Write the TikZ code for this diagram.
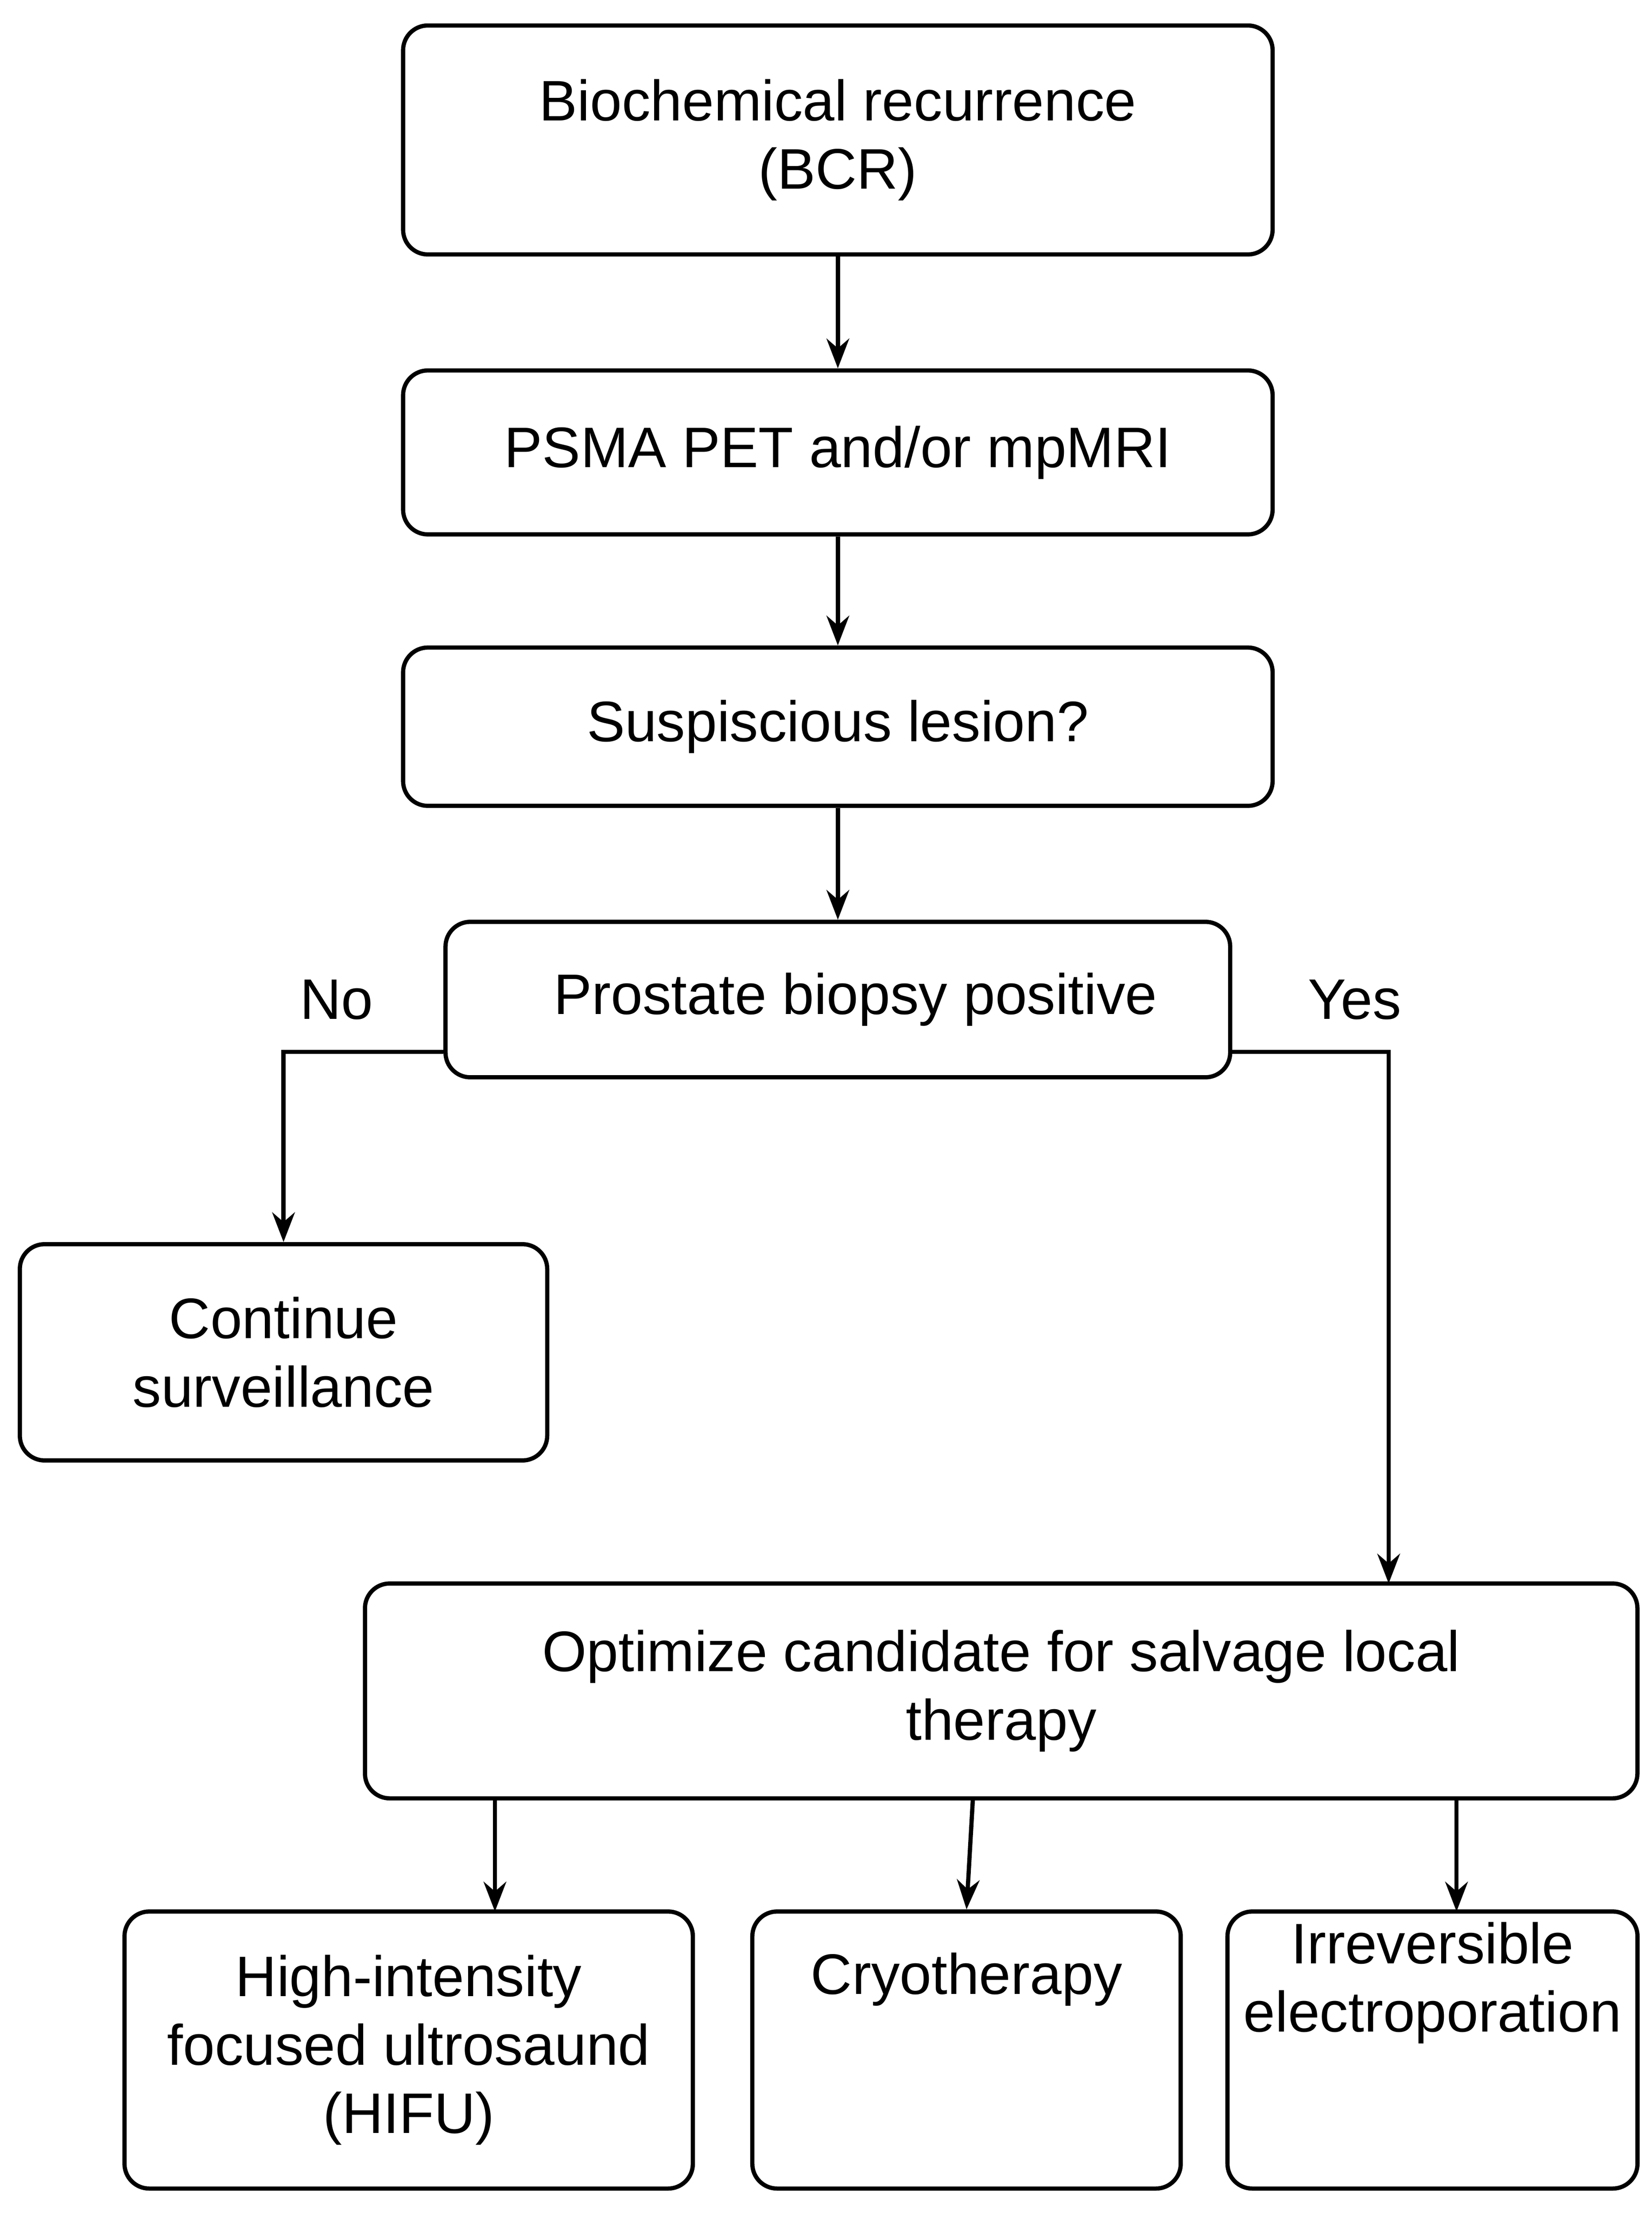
\documentclass[tikz,border=0pt]{standalone}
\usepackage{fontspec}
\setmainfont{Liberation Sans}
\usetikzlibrary{arrows.meta, positioning}

\begin{document}
\begin{tikzpicture}[x=0.02cm, y=-0.02cm,
    stepbox/.style={rectangle, draw=black, line width=1.7pt, rounded corners=0.35cm, inner sep=0pt, align=center, font=\fontsize{23}{27.5}\selectfont},
    link/.style={-{Stealth[length=0.42cm, width=0.32cm]}, line width=1.7pt},
    tag/.style={font=\fontsize{23}{27.5}\selectfont}
]
    \useasboundingbox (0,0) rectangle (1168,1566);

    \node[stepbox, minimum width=12.3cm, minimum height=3.24cm] (bcr) at (592.5, 99) {Biochemical recurrence\\(BCR)};
    \node[stepbox, minimum width=12.3cm, minimum height=2.32cm] (img) at (592.5, 320) {PSMA PET and/or mpMRI};
    \node[stepbox, minimum width=12.3cm, minimum height=2.24cm] (les) at (592.5, 514) {Suspiscious lesion?};
    \node[stepbox, minimum width=11.1cm, minimum height=2.2cm] (bio) at (592.5, 707) {\hspace{0.5cm}Prostate biopsy positive};
    \node[stepbox, minimum width=7.46cm, minimum height=3.06cm] (surv) at (200.5, 956.5) {Continue\\surveillance};
    \node[stepbox, minimum width=18cm, minimum height=3.04cm] (opt) at (708, 1196) {Optimize candidate for salvage local\\therapy};
    \node[stepbox, minimum width=8.04cm, minimum height=3.92cm] (hifu) at (289, 1450) {High-intensity\\focused ultrosaund\\(HIFU)};
    \node[stepbox, minimum width=6.06cm, minimum height=3.92cm] (cryo) at (683.5, 1450) {Cryotherapy\\[1.2cm]};
    \node[stepbox, minimum width=5.8cm, minimum height=3.92cm] (ire) at (1013, 1450) {Irreversible\\electroporation\\[1.1cm]};

    \node[tag] (no) at (238, 707) {No};
    \node[tag] (yes) at (958, 707) {Yes};

    \draw[link] (bcr) -- (img);
    \draw[link] (img) -- (les);
    \draw[link] (les) -- (bio);
    \draw[link] (bio.west |- 0,744) -| (surv.north);
    \draw[link] (bio.east |- 0,744) -| (982,1120);
    \draw[link] (350,1272) -- (350,1352);
    \draw[link] (688,1272) -- (cryo.north);
    \draw[link] (1030,1272) -- (1030,1352);
\end{tikzpicture}
\end{document}
